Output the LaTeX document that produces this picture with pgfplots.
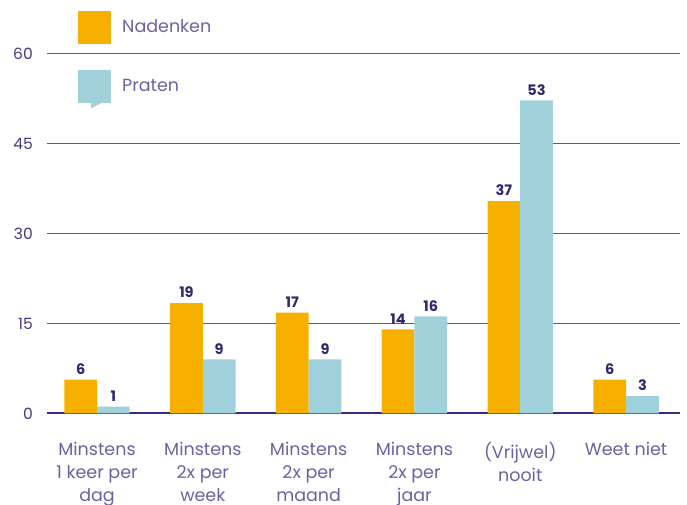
\documentclass[border=0pt]{standalone}
\usepackage{fontspec}
\setmainfont{Poppins}
\usepackage{pgfplots}
\pgfplotsset{compat=1.18}
\definecolor{orng}{HTML}{F8B000}
\definecolor{cyn}{HTML}{A0D1DB}
\definecolor{gridp}{HTML}{6650A4}
\definecolor{zerol}{HTML}{3A2882}
\definecolor{navy}{HTML}{33276E}
\definecolor{tickc}{HTML}{45378A}
\definecolor{labp}{HTML}{6F60A3}
\begin{document}
\begin{tikzpicture}[x=1bp,y=1bp]
\coordinate (origin) at (0,0);
\begin{axis}[
  set layers,
  at={(47bp,91.5bp)}, anchor=south west,
  scale only axis, width=633bp, height=360bp,
  ymin=0, ymax=60, xmin=-0.4726, xmax=5.51,
  ybar=0pt, bar width=32.7bp,
  axis line style={draw=none},
  major tick length=0pt,
  ytick={0,15,30,45,60},
  ymajorgrids=true,
  grid style={draw=gridp, line width=1.9bp},
  extra y ticks={0}, extra y tick labels={},
  extra y tick style={grid style={draw=zerol, line width=2bp}},
  xtick={0,1,2,3,4,5},
  xticklabels={{Minstens\\1 keer per\\dag},{Minstens\\2x per\\week},{Minstens\\2x per\\maand},{Minstens\\2x per\\jaar},{(Vrijwel)\\nooit},{Weet niet}},
  xticklabel style={align=center, font=\fontsize{17.5bp}{23bp}\selectfont, text=labp, anchor=north, inner sep=0pt, yshift=-28.5bp},
  yticklabel style={font=\fontsize{15.5bp}{15.5bp}\selectfont, text=tickc, anchor=east, inner sep=0pt, xshift=-14bp},
  /pgf/number format/assume math mode=true,
  nodes near coords, point meta=explicit symbolic,
  every node near coord/.append style={font=\bfseries\fontsize{14.5bp}{14.5bp}\selectfont, text=navy, anchor=south, inner sep=0pt, yshift=5bp},
  legend style={at={(axis description cs:0,1)}, anchor=north west, xshift=31bp, yshift=43bp,
    draw=none, fill=none, inner sep=0pt, row sep=26bp, column sep=11bp,
    font=\fontsize{17.5bp}{17.5bp}\selectfont, text=labp,
    nodes={inner sep=0pt}},
  legend cell align=left,
]
\addplot[fill=orng, draw=none,
  legend image code/.code={\fill[orng] (0bp,-16.5bp) rectangle (33bp,16.5bp);}]
  coordinates {(0,5.65)[6] (1,18.4)[19] (2,16.8)[17] (3,14.0)[14] (4,35.4)[37] (5,5.65)[6]};
\addlegendentry{Nadenken}
\addplot[fill=cyn, draw=none,
  legend image code/.code={\fill[cyn] (0bp,-16.5bp) rectangle (33bp,16.5bp); \fill[cyn] (13bp,-16.4bp) -- (24bp,-16.4bp) -- (13bp,-22bp) -- cycle;}]
  coordinates {(0,1.16)[1] (1,9.0)[9] (2,9.0)[9] (3,16.2)[16] (4,52.2)[53] (5,2.9)[3]};
\addlegendentry{Praten}
\end{axis}
\pgfresetboundingbox
\path[use as bounding box] (0,0) rectangle (687,505);
\end{tikzpicture}
\end{document}
